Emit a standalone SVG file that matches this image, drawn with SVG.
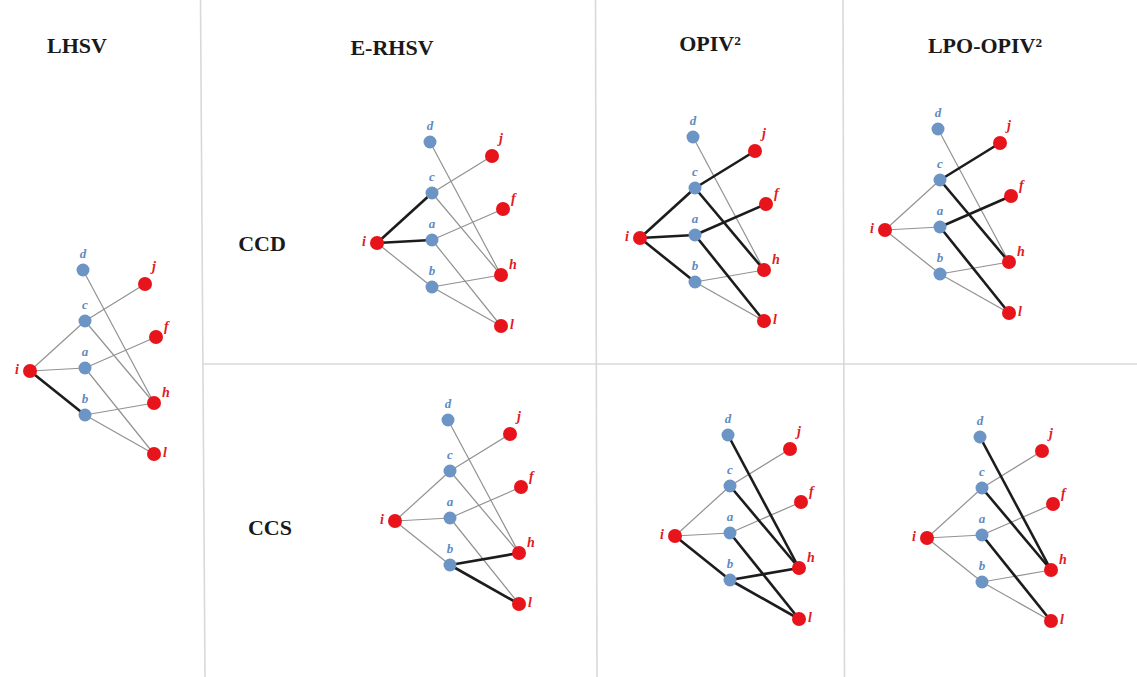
<svg xmlns="http://www.w3.org/2000/svg" width="1137" height="677" viewBox="0 0 1137 677">
  <style>
    .grid { stroke: #d9d9d9; stroke-width: 1.6; fill: none; }
    .head { font-family: "Liberation Serif", serif; font-weight: bold; font-size: 22px; fill: #1a1a1a; text-anchor: middle; }
    .row { font-family: "Liberation Serif", serif; font-weight: bold; font-size: 22px; fill: #1a1a1a; text-anchor: middle; }
    .thin { stroke: #929292; stroke-width: 1.2; fill: none; }
    .thick { stroke: #1c1c1c; stroke-width: 2.6; fill: none; }
    .blue circle { fill: #6c95c6; }
    .red circle { fill: #e8141c; }
    .blue text { font-family: "Liberation Serif", serif; font-style: italic; font-weight: bold; font-size: 13px; fill: #5f8ac2; text-anchor: middle; }
    .red text { font-family: "Liberation Serif", serif; font-style: italic; font-weight: bold; font-size: 14px; fill: #e01b24; }
  </style>

  <rect width="1137" height="677" fill="#ffffff"/>

  <!-- table rules -->
  <g id="grid">
    <path class="grid" d="M200.5 0 L205 677"/>
    <path class="grid" d="M595.5 0 L597 677"/>
    <path class="grid" d="M843 0 L844.5 677"/>
    <path class="grid" d="M203 364 H1137"/>
  </g>

  <!-- column and row headings -->
  <g id="headings">
    <text class="head" x="77" y="53">LHSV</text>
    <text class="head" x="392" y="55">E-RHSV</text>
    <text class="head" x="710" y="51">OPIV²</text>
    <text class="head" x="985" y="53">LPO-OPIV²</text>
    <text class="row" x="262" y="251">CCD</text>
    <text class="row" x="270" y="535">CCS</text>
  </g>

  <!-- edges; every graph shares the same local layout -->
  <g id="connectors">
    <g id="lhsv-edges" transform="translate(85,368)">
      <line class="thin" x1="-55" y1="3" x2="0" y2="-47"/>
      <line class="thin" x1="-55" y1="3" x2="0" y2="0"/>
      <line class="thick" x1="-55" y1="3" x2="0" y2="47"/>
      <line class="thin" x1="0" y1="-47" x2="60" y2="-84"/>
      <line class="thin" x1="0" y1="-47" x2="69" y2="35"/>
      <line class="thin" x1="-2" y1="-98" x2="69" y2="35"/>
      <line class="thin" x1="0" y1="0" x2="71" y2="-31"/>
      <line class="thin" x1="0" y1="0" x2="69" y2="86"/>
      <line class="thin" x1="0" y1="47" x2="69" y2="35"/>
      <line class="thin" x1="0" y1="47" x2="69" y2="86"/>
    </g>
    <g id="erhsv-ccd-edges" transform="translate(432,240)">
      <line class="thick" x1="-55" y1="3" x2="0" y2="-47"/>
      <line class="thick" x1="-55" y1="3" x2="0" y2="0"/>
      <line class="thin" x1="-55" y1="3" x2="0" y2="47"/>
      <line class="thin" x1="0" y1="-47" x2="60" y2="-84"/>
      <line class="thin" x1="0" y1="-47" x2="69" y2="35"/>
      <line class="thin" x1="-2" y1="-98" x2="69" y2="35"/>
      <line class="thin" x1="0" y1="0" x2="71" y2="-31"/>
      <line class="thin" x1="0" y1="0" x2="69" y2="86"/>
      <line class="thin" x1="0" y1="47" x2="69" y2="35"/>
      <line class="thin" x1="0" y1="47" x2="69" y2="86"/>
    </g>
    <g id="opiv-ccd-edges" transform="translate(695,235)">
      <line class="thin" x1="-2" y1="-98" x2="69" y2="35"/>
      <line class="thin" x1="0" y1="47" x2="69" y2="35"/>
      <line class="thin" x1="0" y1="47" x2="69" y2="86"/>
      <line class="thick" x1="-55" y1="3" x2="0" y2="-47"/>
      <line class="thick" x1="-55" y1="3" x2="0" y2="0"/>
      <line class="thick" x1="-55" y1="3" x2="0" y2="47"/>
      <line class="thick" x1="0" y1="-47" x2="60" y2="-84"/>
      <line class="thick" x1="0" y1="-47" x2="69" y2="35"/>
      <line class="thick" x1="0" y1="0" x2="71" y2="-31"/>
      <line class="thick" x1="0" y1="0" x2="69" y2="86"/>
    </g>
    <g id="lpo-ccd-edges" transform="translate(940,227)">
      <line class="thin" x1="-55" y1="3" x2="0" y2="-47"/>
      <line class="thin" x1="-55" y1="3" x2="0" y2="0"/>
      <line class="thin" x1="-55" y1="3" x2="0" y2="47"/>
      <line class="thin" x1="-2" y1="-98" x2="69" y2="35"/>
      <line class="thin" x1="0" y1="47" x2="69" y2="35"/>
      <line class="thin" x1="0" y1="47" x2="69" y2="86"/>
      <line class="thick" x1="0" y1="-47" x2="60" y2="-84"/>
      <line class="thick" x1="0" y1="-47" x2="69" y2="35"/>
      <line class="thick" x1="0" y1="0" x2="71" y2="-31"/>
      <line class="thick" x1="0" y1="0" x2="69" y2="86"/>
    </g>
    <g id="erhsv-ccs-edges" transform="translate(450,518)">
      <line class="thin" x1="-55" y1="3" x2="0" y2="-47"/>
      <line class="thin" x1="-55" y1="3" x2="0" y2="0"/>
      <line class="thin" x1="-55" y1="3" x2="0" y2="47"/>
      <line class="thin" x1="0" y1="-47" x2="60" y2="-84"/>
      <line class="thin" x1="0" y1="-47" x2="69" y2="35"/>
      <line class="thin" x1="-2" y1="-98" x2="69" y2="35"/>
      <line class="thin" x1="0" y1="0" x2="71" y2="-31"/>
      <line class="thin" x1="0" y1="0" x2="69" y2="86"/>
      <line class="thick" x1="0" y1="47" x2="69" y2="35"/>
      <line class="thick" x1="0" y1="47" x2="69" y2="86"/>
    </g>
    <g id="opiv-ccs-edges" transform="translate(730,533)">
      <line class="thin" x1="-55" y1="3" x2="0" y2="-47"/>
      <line class="thin" x1="-55" y1="3" x2="0" y2="0"/>
      <line class="thin" x1="0" y1="-47" x2="60" y2="-84"/>
      <line class="thin" x1="0" y1="0" x2="71" y2="-31"/>
      <line class="thick" x1="-55" y1="3" x2="0" y2="47"/>
      <line class="thick" x1="0" y1="-47" x2="69" y2="35"/>
      <line class="thick" x1="-2" y1="-98" x2="69" y2="35"/>
      <line class="thick" x1="0" y1="0" x2="69" y2="86"/>
      <line class="thick" x1="0" y1="47" x2="69" y2="35"/>
      <line class="thick" x1="0" y1="47" x2="69" y2="86"/>
    </g>
    <g id="lpo-ccs-edges" transform="translate(982,535)">
      <line class="thin" x1="-55" y1="3" x2="0" y2="-47"/>
      <line class="thin" x1="-55" y1="3" x2="0" y2="0"/>
      <line class="thin" x1="-55" y1="3" x2="0" y2="47"/>
      <line class="thin" x1="0" y1="-47" x2="60" y2="-84"/>
      <line class="thin" x1="0" y1="0" x2="71" y2="-31"/>
      <line class="thin" x1="0" y1="47" x2="69" y2="35"/>
      <line class="thin" x1="0" y1="47" x2="69" y2="86"/>
      <line class="thick" x1="0" y1="-47" x2="69" y2="35"/>
      <line class="thick" x1="-2" y1="-98" x2="69" y2="35"/>
      <line class="thick" x1="0" y1="0" x2="69" y2="86"/>
    </g>
  </g>

  <!-- nodes: blue d, c, a, b in the middle column; red i on the left, j, f, h, l on the right -->
  <g id="lhsv" transform="translate(85,368)">
    <g id="lhsv-d" class="blue" transform="translate(-2,-98)"><circle r="6.5"/><text y="-12">d</text></g>
    <g id="lhsv-c" class="blue" transform="translate(0,-47)"><circle r="6.5"/><text y="-12">c</text></g>
    <g id="lhsv-a" class="blue" transform="translate(0,0)"><circle r="6.5"/><text y="-12">a</text></g>
    <g id="lhsv-b" class="blue" transform="translate(0,47)"><circle r="6.5"/><text y="-12">b</text></g>
    <g id="lhsv-i" class="red" transform="translate(-55,3)"><circle r="7"/><text x="-11" y="3" text-anchor="end">i</text></g>
    <g id="lhsv-j" class="red" transform="translate(60,-84)"><circle r="7"/><text x="7" y="-13">j</text></g>
    <g id="lhsv-f" class="red" transform="translate(71,-31)"><circle r="7"/><text x="8" y="-6">f</text></g>
    <g id="lhsv-h" class="red" transform="translate(69,35)"><circle r="7"/><text x="8" y="-6">h</text></g>
    <g id="lhsv-l" class="red" transform="translate(69,86)"><circle r="7"/><text x="9" y="3">l</text></g>
  </g>

  <g id="erhsv-ccd" transform="translate(432,240)">
    <g id="erhsv-ccd-d" class="blue" transform="translate(-2,-98)"><circle r="6.5"/><text y="-12">d</text></g>
    <g id="erhsv-ccd-c" class="blue" transform="translate(0,-47)"><circle r="6.5"/><text y="-12">c</text></g>
    <g id="erhsv-ccd-a" class="blue" transform="translate(0,0)"><circle r="6.5"/><text y="-12">a</text></g>
    <g id="erhsv-ccd-b" class="blue" transform="translate(0,47)"><circle r="6.5"/><text y="-12">b</text></g>
    <g id="erhsv-ccd-i" class="red" transform="translate(-55,3)"><circle r="7"/><text x="-11" y="3" text-anchor="end">i</text></g>
    <g id="erhsv-ccd-j" class="red" transform="translate(60,-84)"><circle r="7"/><text x="7" y="-13">j</text></g>
    <g id="erhsv-ccd-f" class="red" transform="translate(71,-31)"><circle r="7"/><text x="8" y="-6">f</text></g>
    <g id="erhsv-ccd-h" class="red" transform="translate(69,35)"><circle r="7"/><text x="8" y="-6">h</text></g>
    <g id="erhsv-ccd-l" class="red" transform="translate(69,86)"><circle r="7"/><text x="9" y="3">l</text></g>
  </g>

  <g id="opiv-ccd" transform="translate(695,235)">
    <g id="opiv-ccd-d" class="blue" transform="translate(-2,-98)"><circle r="6.5"/><text y="-12">d</text></g>
    <g id="opiv-ccd-c" class="blue" transform="translate(0,-47)"><circle r="6.5"/><text y="-12">c</text></g>
    <g id="opiv-ccd-a" class="blue" transform="translate(0,0)"><circle r="6.5"/><text y="-12">a</text></g>
    <g id="opiv-ccd-b" class="blue" transform="translate(0,47)"><circle r="6.5"/><text y="-12">b</text></g>
    <g id="opiv-ccd-i" class="red" transform="translate(-55,3)"><circle r="7"/><text x="-11" y="3" text-anchor="end">i</text></g>
    <g id="opiv-ccd-j" class="red" transform="translate(60,-84)"><circle r="7"/><text x="7" y="-13">j</text></g>
    <g id="opiv-ccd-f" class="red" transform="translate(71,-31)"><circle r="7"/><text x="8" y="-6">f</text></g>
    <g id="opiv-ccd-h" class="red" transform="translate(69,35)"><circle r="7"/><text x="8" y="-6">h</text></g>
    <g id="opiv-ccd-l" class="red" transform="translate(69,86)"><circle r="7"/><text x="9" y="3">l</text></g>
  </g>

  <g id="lpo-ccd" transform="translate(940,227)">
    <g id="lpo-ccd-d" class="blue" transform="translate(-2,-98)"><circle r="6.5"/><text y="-12">d</text></g>
    <g id="lpo-ccd-c" class="blue" transform="translate(0,-47)"><circle r="6.5"/><text y="-12">c</text></g>
    <g id="lpo-ccd-a" class="blue" transform="translate(0,0)"><circle r="6.5"/><text y="-12">a</text></g>
    <g id="lpo-ccd-b" class="blue" transform="translate(0,47)"><circle r="6.5"/><text y="-12">b</text></g>
    <g id="lpo-ccd-i" class="red" transform="translate(-55,3)"><circle r="7"/><text x="-11" y="3" text-anchor="end">i</text></g>
    <g id="lpo-ccd-j" class="red" transform="translate(60,-84)"><circle r="7"/><text x="7" y="-13">j</text></g>
    <g id="lpo-ccd-f" class="red" transform="translate(71,-31)"><circle r="7"/><text x="8" y="-6">f</text></g>
    <g id="lpo-ccd-h" class="red" transform="translate(69,35)"><circle r="7"/><text x="8" y="-6">h</text></g>
    <g id="lpo-ccd-l" class="red" transform="translate(69,86)"><circle r="7"/><text x="9" y="3">l</text></g>
  </g>

  <g id="erhsv-ccs" transform="translate(450,518)">
    <g id="erhsv-ccs-d" class="blue" transform="translate(-2,-98)"><circle r="6.5"/><text y="-12">d</text></g>
    <g id="erhsv-ccs-c" class="blue" transform="translate(0,-47)"><circle r="6.5"/><text y="-12">c</text></g>
    <g id="erhsv-ccs-a" class="blue" transform="translate(0,0)"><circle r="6.5"/><text y="-12">a</text></g>
    <g id="erhsv-ccs-b" class="blue" transform="translate(0,47)"><circle r="6.5"/><text y="-12">b</text></g>
    <g id="erhsv-ccs-i" class="red" transform="translate(-55,3)"><circle r="7"/><text x="-11" y="3" text-anchor="end">i</text></g>
    <g id="erhsv-ccs-j" class="red" transform="translate(60,-84)"><circle r="7"/><text x="7" y="-13">j</text></g>
    <g id="erhsv-ccs-f" class="red" transform="translate(71,-31)"><circle r="7"/><text x="8" y="-6">f</text></g>
    <g id="erhsv-ccs-h" class="red" transform="translate(69,35)"><circle r="7"/><text x="8" y="-6">h</text></g>
    <g id="erhsv-ccs-l" class="red" transform="translate(69,86)"><circle r="7"/><text x="9" y="3">l</text></g>
  </g>

  <g id="opiv-ccs" transform="translate(730,533)">
    <g id="opiv-ccs-d" class="blue" transform="translate(-2,-98)"><circle r="6.5"/><text y="-12">d</text></g>
    <g id="opiv-ccs-c" class="blue" transform="translate(0,-47)"><circle r="6.5"/><text y="-12">c</text></g>
    <g id="opiv-ccs-a" class="blue" transform="translate(0,0)"><circle r="6.5"/><text y="-12">a</text></g>
    <g id="opiv-ccs-b" class="blue" transform="translate(0,47)"><circle r="6.5"/><text y="-12">b</text></g>
    <g id="opiv-ccs-i" class="red" transform="translate(-55,3)"><circle r="7"/><text x="-11" y="3" text-anchor="end">i</text></g>
    <g id="opiv-ccs-j" class="red" transform="translate(60,-84)"><circle r="7"/><text x="7" y="-13">j</text></g>
    <g id="opiv-ccs-f" class="red" transform="translate(71,-31)"><circle r="7"/><text x="8" y="-6">f</text></g>
    <g id="opiv-ccs-h" class="red" transform="translate(69,35)"><circle r="7"/><text x="8" y="-6">h</text></g>
    <g id="opiv-ccs-l" class="red" transform="translate(69,86)"><circle r="7"/><text x="9" y="3">l</text></g>
  </g>

  <g id="lpo-ccs" transform="translate(982,535)">
    <g id="lpo-ccs-d" class="blue" transform="translate(-2,-98)"><circle r="6.5"/><text y="-12">d</text></g>
    <g id="lpo-ccs-c" class="blue" transform="translate(0,-47)"><circle r="6.5"/><text y="-12">c</text></g>
    <g id="lpo-ccs-a" class="blue" transform="translate(0,0)"><circle r="6.5"/><text y="-12">a</text></g>
    <g id="lpo-ccs-b" class="blue" transform="translate(0,47)"><circle r="6.5"/><text y="-12">b</text></g>
    <g id="lpo-ccs-i" class="red" transform="translate(-55,3)"><circle r="7"/><text x="-11" y="3" text-anchor="end">i</text></g>
    <g id="lpo-ccs-j" class="red" transform="translate(60,-84)"><circle r="7"/><text x="7" y="-13">j</text></g>
    <g id="lpo-ccs-f" class="red" transform="translate(71,-31)"><circle r="7"/><text x="8" y="-6">f</text></g>
    <g id="lpo-ccs-h" class="red" transform="translate(69,35)"><circle r="7"/><text x="8" y="-6">h</text></g>
    <g id="lpo-ccs-l" class="red" transform="translate(69,86)"><circle r="7"/><text x="9" y="3">l</text></g>
  </g>
</svg>
